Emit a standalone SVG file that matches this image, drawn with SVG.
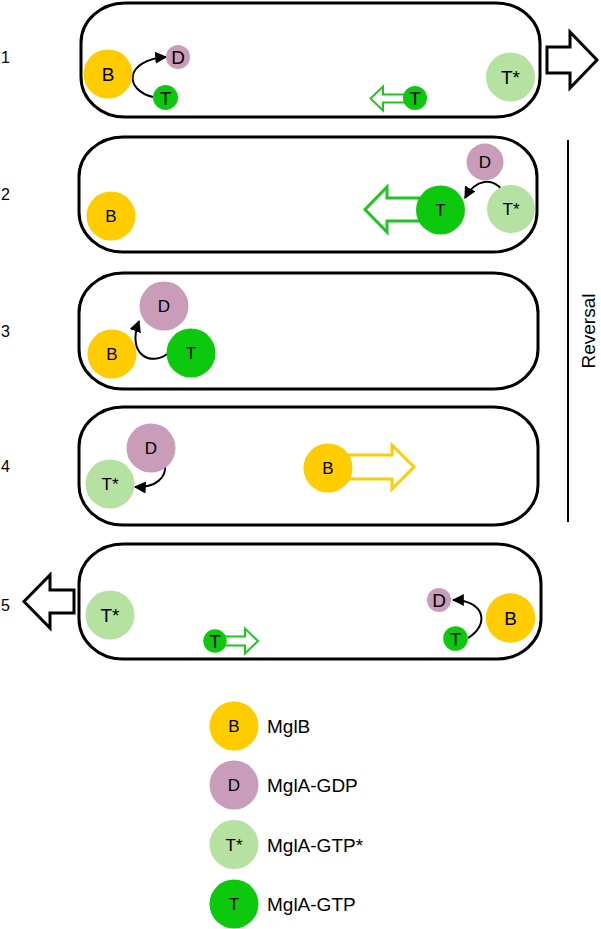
<svg xmlns="http://www.w3.org/2000/svg" width="601" height="929" viewBox="0 0 601 929">
<defs>
<style>
text{font-family:"Liberation Sans",Arial,sans-serif;fill:#000}
.cell{fill:#fff;stroke:#000;stroke-width:3}
.big{fill:#fff;stroke:#000;stroke-width:3;stroke-linejoin:miter}
.B{fill:#FFCC00}.D{fill:#C99DBA}.Ts{fill:#B5E2A0}.T{fill:#0DC90D}
.lt{font-size:17px;text-anchor:middle}
.ls{font-size:19px;text-anchor:middle}
.num{font-size:16px}
.leg{font-size:19px}
.cur{fill:none;stroke:#000;stroke-width:2}
.ga{fill:#fff;stroke:#1DC81D}
.ya{fill:#fff;stroke:#FFCC00;stroke-width:3}
</style>
<marker id="ah" viewBox="0 0 10 10" refX="9" refY="5" markerWidth="6" markerHeight="6" markerUnits="strokeWidth" orient="auto">
<path d="M0,0 L10,5 L0,10 Z" fill="#000"/>
</marker>
</defs>
<rect width="601" height="929" fill="#fff"/>

<g id="cells">
<rect class="cell" x="81" y="3" width="459" height="114" rx="44" ry="40"/>
<rect class="cell" x="79" y="137" width="458" height="115" rx="44" ry="40"/>
<rect class="cell" x="79" y="273" width="459" height="116" rx="44" ry="40"/>
<rect class="cell" x="79" y="407" width="459" height="118" rx="44" ry="40"/>
<rect class="cell" x="79" y="544" width="462" height="115" rx="44" ry="40"/>
</g>

<g id="labels">
<text class="num" x="1" y="63">1</text>
<text class="num" x="1" y="200">2</text>
<text class="num" x="1" y="337">3</text>
<text class="num" x="1" y="472">4</text>
<text class="num" x="1" y="611">5</text>
</g>

<g id="motion-arrows">
<polygon class="big" points="547,47 570,47 570,32 597,60 570,88 570,73 547,73"/>
<polygon class="big" points="74,590 50,590 50,575 24,601.5 50,628 50,613 74,613"/>
<polygon class="ga" stroke-width="2" points="405,94.5 383,94.5 383,86.5 370.5,98.5 383,110.5 383,102.5 405,102.5"/>
<polygon class="ga" stroke-width="3" points="420,198 387,198 387,187 365,209.5 387,232 387,221 420,221"/>
<polygon class="ya" points="348,455 392,455 392,445 414,467 392,489 392,479 348,479"/>
<polygon class="ga" stroke-width="2" points="222,636.5 245,636.5 245,628.5 258,641 245,653.5 245,645.5 222,645.5"/>
</g>

<g id="reversal">
<line x1="568" y1="140" x2="568" y2="522" stroke="#000" stroke-width="2"/>
<text x="595" y="331" font-size="19" text-anchor="middle" transform="rotate(-90 595 331)">Reversal</text>
</g>

<g id="connectors">
<path class="cur" d="M153,97 C124,90 124,60 166,57" marker-end="url(#ah)"/>
<path class="cur" d="M502,190 C493,178 476,178 465,198" marker-end="url(#ah)"/>
<path class="cur" d="M167,354 C152,366 126,356 139,321" marker-end="url(#ah)"/>
<path class="cur" d="M165,464 C167,478 155,488 135,487" marker-end="url(#ah)"/>
<path class="cur" d="M468,638 C490,625 485,600 453,600" marker-end="url(#ah)"/>
</g>

<g id="cell1-nodes">
<g id="c1-B"><circle class="B" cx="108" cy="74" r="24.5"/><text class="ls" x="108" y="81">B</text></g>
<g id="c1-D"><circle class="D" cx="178" cy="57" r="12"/><text class="ls" x="178" y="64">D</text></g>
<g id="c1-T"><circle class="T" cx="165.5" cy="97.5" r="12.5"/><text class="ls" x="165.5" y="104.5">T</text></g>
<g id="c1-Ts"><circle class="Ts" cx="510.5" cy="77" r="24.5"/><text class="ls" x="510.5" y="84">T*</text></g>
<g id="c1-T2"><circle class="T" cx="415" cy="98" r="12"/><text class="ls" x="415" y="105">T</text></g>
</g>

<g id="cell2-nodes">
<g id="c2-B"><circle class="B" cx="111" cy="216" r="24.5"/><text class="lt" x="111" y="222">B</text></g>
<g id="c2-D"><circle class="D" cx="485" cy="162" r="18.5"/><text class="lt" x="485" y="168">D</text></g>
<g id="c2-T"><circle class="T" cx="440.5" cy="210" r="24.5"/><text class="lt" x="440.5" y="216">T</text></g>
<g id="c2-Ts"><circle class="Ts" cx="511" cy="209" r="24"/><text class="lt" x="511" y="215">T*</text></g>
</g>

<g id="cell3-nodes">
<g id="c3-D"><circle class="D" cx="164" cy="306" r="24.5"/><text class="lt" x="164" y="312">D</text></g>
<g id="c3-B"><circle class="B" cx="112" cy="354" r="24.5"/><text class="lt" x="112" y="360">B</text></g>
<g id="c3-T"><circle class="T" cx="191" cy="353" r="24.5"/><text class="lt" x="191" y="359">T</text></g>
</g>

<g id="cell4-nodes">
<g id="c4-D"><circle class="D" cx="151" cy="448" r="24.5"/><text class="lt" x="151" y="454">D</text></g>
<g id="c4-Ts"><circle class="Ts" cx="110" cy="484" r="24.5"/><text class="lt" x="110" y="490">T*</text></g>
<g id="c4-B"><circle class="B" cx="328" cy="468" r="24.5"/><text class="lt" x="328" y="474">B</text></g>
</g>

<g id="cell5-nodes">
<g id="c5-Ts"><circle class="Ts" cx="110" cy="615" r="24.5"/><text class="ls" x="110" y="622">T*</text></g>
<g id="c5-T1"><circle class="T" cx="215" cy="641" r="11.7"/><text class="ls" x="215" y="648">T</text></g>
<g id="c5-D"><circle class="D" cx="439" cy="600" r="12"/><text class="ls" x="439" y="607">D</text></g>
<g id="c5-T2"><circle class="T" cx="455.5" cy="638.5" r="12.3"/><text class="ls" x="455.5" y="645.5">T</text></g>
<g id="c5-B"><circle class="B" cx="510.5" cy="618" r="24.7"/><text class="ls" x="510.5" y="625">B</text></g>
</g>

<g id="legend">
<g id="leg-B"><circle class="B" cx="234" cy="726" r="24.5"/><text class="lt" x="234" y="732">B</text><text class="leg" x="267" y="733">MglB</text></g>
<g id="leg-D"><circle class="D" cx="234" cy="785" r="24.5"/><text class="lt" x="234" y="791">D</text><text class="leg" x="267" y="792">MglA-GDP</text></g>
<g id="leg-Ts"><circle class="Ts" cx="234" cy="844.5" r="24.5"/><text class="lt" x="234" y="850.5">T*</text><text class="leg" x="267" y="851.5">MglA-GTP*</text></g>
<g id="leg-T"><circle class="T" cx="234" cy="904" r="24.5"/><text class="lt" x="234" y="910">T</text><text class="leg" x="267" y="911">MglA-GTP</text></g>
</g>
</svg>
